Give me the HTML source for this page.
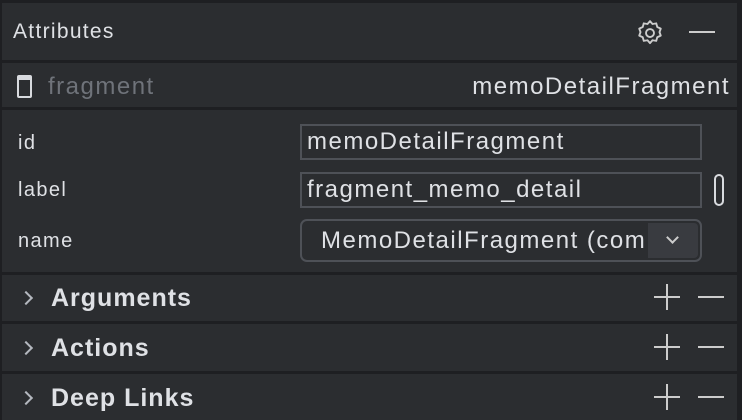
<!DOCTYPE html>
<html><head><meta charset="utf-8"><style>
*{margin:0;padding:0;box-sizing:border-box}
body{width:742px;height:420px;background:#2b2d30;position:relative;overflow:hidden;font-family:"Liberation Sans",sans-serif;color:#dfe1e5}
.a{position:absolute}
.sep{position:absolute;left:0;width:737px;height:3px;background:#1e1f22}
.t{position:absolute;font-size:20px;line-height:24px;white-space:nowrap;letter-spacing:1.4px}
.v{font-size:24px;letter-spacing:1.5px;line-height:26px}
.box{position:absolute;border:2px solid #4e5157;background:#2b2d30}
.h{position:absolute;font-size:25px;font-weight:bold;line-height:28px;letter-spacing:1px}
.chev{position:absolute;width:10px;height:10px;border-right:2px solid #b4b8bf;border-top:2px solid #b4b8bf;transform:rotate(45deg)}
.pl1{position:absolute;width:26px;height:2px;background:#ccc}
.pl2{position:absolute;width:2px;height:26px;background:#ccc}
</style></head><body>
<div class="a" style="left:0;top:0;width:742px;height:3px;background:#1e1f22"></div>
<div class="a" style="left:0;top:0;width:2px;height:420px;background:#1e1f22"></div>
<div class="a" style="left:737px;top:0;width:5px;height:420px;background:#1e1f22"></div>
<div class="t" style="left:13px;top:20px;font-size:21px;letter-spacing:1.3px">Attributes</div>
<svg class="a" style="left:635px;top:18px" width="30" height="30" viewBox="0 0 24 24"><path d="M12 2.5l2 2.3 3-.5.8 2.9 2.8 1.3-1 2.8 1 2.8-2.8 1.3-.8 2.9-3-.5-2 2.3-2-2.3-3 .5-.8-2.9-2.8-1.3 1-2.8-1-2.8 2.8-1.3.8-2.9 3 .5z" fill="none" stroke="#ccc" stroke-width="1.5" stroke-linejoin="round"/><circle cx="12" cy="12" r="3.2" fill="none" stroke="#ccc" stroke-width="1.5"/></svg>
<div class="a" style="left:689px;top:31px;width:26px;height:2px;background:#ccc"></div>
<div class="sep" style="top:60px"></div>
<div class="a" style="left:17px;top:75px;width:15px;height:23px;border:2px solid #d8dade;border-top-width:5px;border-radius:2px"></div>
<div class="t v" style="left:48px;top:74px;color:#6f737a">fragment</div>
<div class="t v" style="right:12px;top:74px">memoDetailFragment</div>
<div class="sep" style="top:107px"></div>
<div class="t" style="left:18px;top:131px">id</div>
<div class="t" style="left:18px;top:178px">label</div>
<div class="t" style="left:18px;top:229px">name</div>
<div class="box" style="left:300px;top:124px;width:402px;height:36px"></div>
<div class="t v" style="left:307px;top:129px">memoDetailFragment</div>
<div class="box" style="left:300px;top:172px;width:402px;height:36px"></div>
<div class="t v" style="left:307px;top:177px">fragment_memo_detail</div>
<div class="a" style="left:714px;top:174px;width:10px;height:32px;border:2px solid #d8dade;border-radius:5px"></div>
<div class="box" style="left:300px;top:219px;width:402px;height:43px;border-radius:7px;overflow:hidden"><div class="a" style="left:346px;top:2px;width:50px;height:35px;background:#393b40;border-radius:0 4px 4px 0"></div></div>
<div class="t v" style="left:321px;top:228px;width:326px;overflow:hidden">MemoDetailFragment (com</div>
<div class="a" style="left:668px;top:233px;width:9px;height:9px;border-right:2px solid #ccc;border-bottom:2px solid #ccc;transform:rotate(45deg)"></div>
<div class="sep" style="top:272px"></div>
<div class="sep" style="top:321px"></div>
<div class="sep" style="top:371px"></div>
<div class="chev" style="left:21px;top:293px"></div>
<div class="h" style="left:51px;top:284px">Arguments</div>
<div class="chev" style="left:21px;top:343px"></div>
<div class="h" style="left:51px;top:334px">Actions</div>
<div class="chev" style="left:21px;top:393px"></div>
<div class="h" style="left:51px;top:384px">Deep Links</div>
<div class="pl1" style="left:654px;top:296px"></div><div class="pl2" style="left:666px;top:284px"></div><div class="pl1" style="left:698px;top:296px"></div>
<div class="pl1" style="left:654px;top:346px"></div><div class="pl2" style="left:666px;top:334px"></div><div class="pl1" style="left:698px;top:346px"></div>
<div class="pl1" style="left:654px;top:396px"></div><div class="pl2" style="left:666px;top:384px"></div><div class="pl1" style="left:698px;top:396px"></div>
</body></html>
